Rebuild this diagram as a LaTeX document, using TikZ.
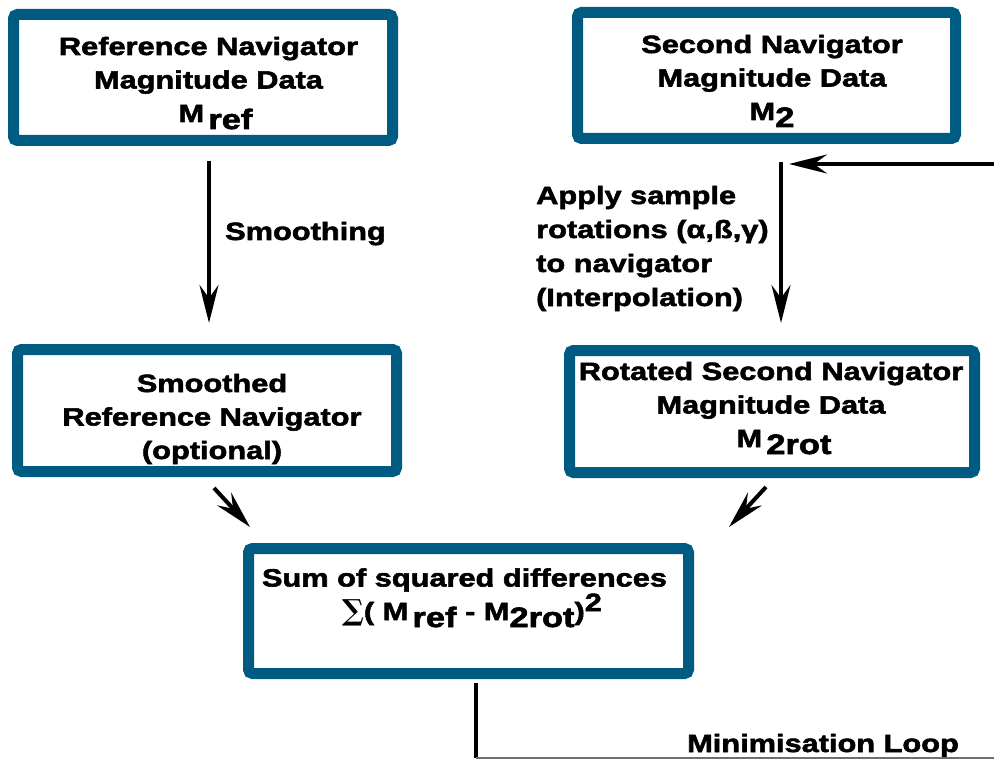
\documentclass[tikz,border=0pt]{standalone}
\usepackage{fontspec}
\setmainfont{Liberation Sans}[FakeStretch=1.23,FakeBold=2.2]
\newfontfamily\sigmafont{DejaVu Serif}
\usetikzlibrary{arrows.meta,calc}
\definecolor{navblue}{RGB}{0,91,130}
\definecolor{loopgray}{RGB}{110,110,110}
% lowered index and raised exponent, set as plain text
\newcommand{\lowsub}[1]{\raisebox{-7pt}{\fontsize{28}{28}\selectfont #1}}
\newcommand{\highsup}[1]{\raisebox{9pt}{#1}}

\begin{document}
\begin{tikzpicture}[x=1pt,y=-1pt,
  box/.style={draw=navblue, line width=11pt, rounded corners=4pt, fill=white, inner sep=0pt},
  lbl/.style={font=\fontsize{25}{33.5}\selectfont\bfseries, inner sep=0pt, align=center, anchor=base},
  side/.style={font=\fontsize{25}{34}\selectfont\bfseries, inner sep=0pt, align=left, anchor=base west},
  arr/.style={line width=4pt, -{Stealth[length=38pt,width=19pt,inset=13pt]}},
]
\useasboundingbox (0,0) rectangle (994,762);

% process boxes
\node[box, minimum width=379pt, minimum height=126pt] (ref)      at (203,77.5)  {};
\node[box, minimum width=378pt, minimum height=126pt] (second)   at (766.5,75.5) {};
\node[box, minimum width=379pt, minimum height=122pt] (smoothed) at (207,410.5) {};
\node[box, minimum width=405pt, minimum height=122pt] (rotated)  at (772,411.5) {};
\node[box, minimum width=440pt, minimum height=125pt] (sum)      at (468.5,611) {};

% box texts (anchored at the baseline of the last line)
\node[lbl] (reftxt) at (208.5,122) {Reference Navigator\\Magnitude Data\\\hspace*{14pt}M\,\lowsub{ref}};
\node[lbl] (secondtxt) at (772,120) {Second Navigator\\Magnitude Data\\M\lowsub{2}};
\node[lbl] (smoothtxt) at (212,459) {Smoothed\\Reference Navigator\\(optional)};
\node[lbl] (rottxt) at (771,447) {Rotated Second Navigator\\Magnitude Data\hspace*{18pt}\\\hspace*{26pt}M\,\lowsub{2rot}};
\node[lbl] (sumtxt) at (464.5,620) {Sum of squared differences\\\hspace*{15pt}{\sigmafont\fontsize{29}{29}\selectfont ∑}( M\,\lowsub{ref} - M\lowsub{2rot})\highsup{2}};

% connector labels
\node[side] (smoothlbl) at (225,240) {Smoothing};
\node[side] (rotlbl) at (536,306) {Apply sample\\rotations (α,ß,γ)\\to navigator\\(Interpolation)};
\node[side] (looplbl) at (687,752) {Minimisation Loop};

% loop coordinates
\coordinate (loopin) at (994,164);
\coordinate (loopjoin) at (781,164);
\coordinate (loopcorner) at (476,758);
\coordinate (loopend) at (994,758);

% connectors
\draw[arr, shorten <=15pt, shorten >=21pt] ([xshift=6pt]ref.south) -- ([xshift=6pt]ref.south |- smoothed.north);
\draw[arr, shorten <=18pt, shorten >=22pt] ([xshift=14.5pt]second.south) -- ([xshift=14.5pt]second.south |- rotated.north);
\draw[arr, shorten >=8pt] (loopin) -- (loopjoin);
\draw[arr] ($(smoothed.south)+(7,11)$) -- ($(sum.north west)+(7,-16)$);
\draw[arr] ($(rotated.south)+(-6,9)$) -- ($(sum.north east)+(35,-16)$);
\draw[line width=4pt] ($(sum.south)+(7.5,4)$) -- (loopcorner);
\draw[loopgray, line width=2pt] (loopcorner) -- (loopend);
\end{tikzpicture}
\end{document}
